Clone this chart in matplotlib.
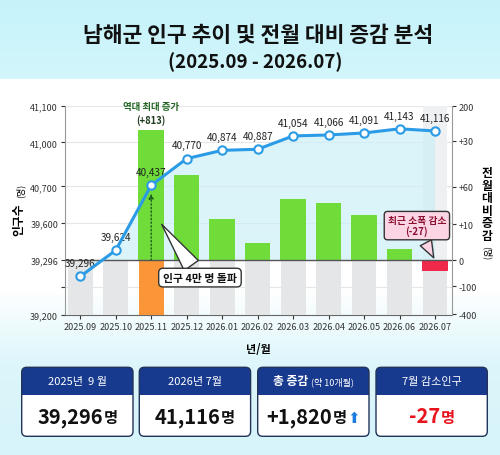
import numpy as np
import matplotlib
matplotlib.use('Agg')
import matplotlib.pyplot as plt
from matplotlib.colors import to_rgb
from matplotlib.patches import FancyBboxPatch, Rectangle, Polygon
from matplotlib.offsetbox import TextArea, HPacker, AnnotationBbox

plt.rcParams['font.family'] = ['Noto Sans CJK KR', 'DejaVu Sans']

months = ['2025.09', '2025.10', '2025.11', '2025.12', '2026.01', '2026.02',
          '2026.03', '2026.04', '2026.05', '2026.06', '2026.07']
population = [39296, 39624, 40437, 40770, 40874, 40887, 41054, 41066, 41091, 41143, 41116]
# bar heights as drawn against the right axis
bar_height = [0, 0, 169, 110, 53, 23, 79, 74, 59, 14.5, -13.6]

left_ticks = [39200, 39248, 39296, 39600, 40700, 41000, 41100]
left_labels = ['39,200', '', '39,296', '39,600', '40,700', '41,000', '41,100']
left_frac = [0, 0.1325, 0.262, 0.4388, 0.6158, 0.8263, 1.0]
right_ticks = [200, 155, 95, 47, 0, -34, -70]
right_labels = ['200', '+30', '+60', '+10', '0', '-100', '-400']

change = np.diff(population)
peak = int(np.argmax(change)) + 1
x = np.arange(len(months))

fig = plt.figure(figsize=(5, 4.56), dpi=100)

# background in pixel coordinates
bg = fig.add_axes([0, 0, 1, 1], zorder=-1)
bg.set_xlim(0, 500)
bg.set_ylim(456, 0)
bg.axis('off')
stops = [0, 79, 80, 290, 365, 456]
cols = np.array([to_rgb(c) for c in ['#c6f3fa', '#d2f6fb', '#ffffff', '#ffffff', '#dcf6fb', '#d6f4fa']])
ys = np.arange(456)
grad = np.stack([np.interp(ys, stops, cols[:, k]) for k in range(3)], axis=-1)[:, None, :]
bg.imshow(grad, extent=(0, 500, 456, 0), aspect='auto')

bg.text(258, 36, '남해군 인구 추이 및 전월 대비 증감 분석', ha='center', va='center',
        fontsize=15.5, weight='bold', color='#111111')
bg.text(255, 62, '(2025.09 - 2026.07)', ha='center', va='center',
        fontsize=13.5, weight='bold', color='#111111')

ax = fig.add_axes([0.13, 0.307, 0.7734, 0.4583])
ax.patch.set_alpha(0)
axr = ax.twinx()
axl = ax.twinx()

# left axis: displayed population ticks
fwd = lambda v: np.interp(v, left_ticks, left_frac)
inv = lambda f: np.interp(f, left_frac, left_ticks)
ax.set_yscale('function', functions=(fwd, inv))
ax.set_ylim(39200, 41100)
ax.set_yticks(left_ticks, left_labels)
ax.set_xlim(-0.43, 10.47)
ax.set_xticks(x, months)
ax.tick_params(labelsize=6.5, length=3, pad=2, colors='#333333')
ax.grid(axis='y', color='#e2e8ea', lw=0.8)
ax.set_xlabel('년/월', fontsize=8, weight='bold', labelpad=8)
for s in ['top', 'right']:
    ax.spines[s].set_visible(False)
ax.spines['left'].set_color('#999999')
ax.spines['bottom'].set_color('#666666')

# right axis: monthly change bars
axr.set_ylim(-71, 200)
axr.set_yticks(right_ticks, right_labels)
axr.tick_params(labelsize=6.5, length=3, pad=2, colors='#333333')
for s in ['top', 'left', 'bottom']:
    axr.spines[s].set_visible(False)
axr.spines['right'].set_color('#999999')

axr.bar(x[-1], 200, width=0.7, color='#eef0f1', zorder=0.4)
low_colors = ['#fb9638' if i == peak else '#e4e6e8' for i in x]
axr.bar(x, -71, width=0.7, color=low_colors, zorder=1)
bar_colors = ['#6fdc3a' if h > 0 else '#f0284a' for h in bar_height]
axr.bar(x, bar_height, width=0.72, color=bar_colors, zorder=2)
axr.axhline(0, color='#555555', lw=1, zorder=3)

# population line
axl.set_ylim(38814, 41428)
axl.axis('off')
base_pop = axl.transData.inverted().transform(axr.transData.transform((0, 0)))[1]
verts = np.column_stack([np.r_[x, x[-1], x[0]], np.r_[population, base_pop, base_pop]])
axr.add_patch(Polygon(verts, closed=True, transform=axl.transData, fc='#c9eff8',
                      ec='none', alpha=0.65, zorder=0.5))
axl.plot(x, population, color='#2b9be6', lw=2.2, marker='o', ms=6, mfc='white',
         mec='#2b9be6', mew=1.5, zorder=4)
for i, v in enumerate(population):
    axl.annotate(f'{v:,}', (i, v), xytext=(0, 9.5), textcoords='offset points',
                 ha='center', va='center', fontsize=7.2, color='#222222')

# annotations
axr.annotate(f'(+{change[peak - 1]})', (peak, bar_height[peak]), xytext=(0, 7.5),
             textcoords='offset points', ha='center', va='center', fontsize=6.8,
             weight='bold', color='#1f3b1f')
axr.annotate('역대 최대 증가', (peak, bar_height[peak]), xytext=(0, 17.5),
             textcoords='offset points', ha='center', va='center', fontsize=6.8,
             weight='bold', color='#226622')
axl.annotate('', xy=(peak, population[peak]), xycoords=axl.transData,
             xytext=(peak, 0), textcoords=axr.transData,
             arrowprops=dict(arrowstyle='-|>', ls=':', color='#1b5e20', lw=1,
                             shrinkA=0, shrinkB=6, mutation_scale=7))
axl.annotate('인구 4만 명 돌파', xy=(0.2457, 0.445), xycoords='axes fraction',
             xytext=(0.349, 0.179), textcoords='axes fraction', ha='center', va='center',
             fontsize=7.8, weight='bold', color='#111111',
             bbox=dict(boxstyle='round,pad=0.4', fc='white', ec='#333333', lw=1),
             arrowprops=dict(arrowstyle='wedge,tail_width=1.6,shrink_factor=0.5',
                             fc='white', ec='#333333', lw=1))
axl.annotate(f'최근 소폭 감소\n({change[-1]})', xy=(x[-1], 0), xycoords=axr.transData,
             xytext=(0.910, 0.428), textcoords='axes fraction', ha='center', va='center',
             fontsize=7, weight='bold', color='#8b1030', linespacing=1.1,
             bbox=dict(boxstyle='round,pad=0.35', fc='#fcd5e5', ec='#333333', lw=1),
             arrowprops=dict(arrowstyle='wedge,tail_width=1.3,shrink_factor=0.5',
                             fc='#fcd5e5', ec='#333333', lw=1))

# axis titles
bg.text(19, 220, '인구수', rotation=90, ha='center', va='center', fontsize=8.5, weight='bold')
bg.text(20, 191, '(명)', rotation=90, ha='center', va='center', fontsize=6.5)
bg.text(487, 205, '\n'.join('전월대비증감'), ha='center', va='center', fontsize=8.5,
        weight='bold', linespacing=0.95)
bg.text(487, 253, '(명)', rotation=-90, ha='center', va='center', fontsize=6.5)

# summary cards
card_x = [21.7, 139.3, 257.7, 376]
card_w, top, head, bottom = 111.3, 368.3, 396, 437.3
first, last = population[0], population[-1]
heads = [[('2025년  9 월', 8, 'normal')], [('2026년 7월', 8, 'normal')],
         [('총 증감', 8.5, 'bold'), (' (약 10개월)', 6.5, 'normal')], [('7월 감소인구', 8, 'normal')]]
values = [(f'{first:,}', '#111111', ''), (f'{last:,}', '#111111', ''),
          (f'+{last - first:,}', '#111111', '⬆'), (f'{change[-1]}', '#e8141c', '')]
for cx, hd, (num, col, arrow) in zip(card_x, heads, values):
    rs = 'round,pad=0,rounding_size=5'
    bg.add_patch(FancyBboxPatch((cx, top), card_w, bottom - top, boxstyle=rs,
                                fc='#173a8f', ec='none'))
    bg.add_patch(FancyBboxPatch((cx, head), card_w, bottom - head, boxstyle=rs,
                                fc='white', ec='none'))
    bg.add_patch(Rectangle((cx, head), card_w, 6, fc='white', ec='none'))
    bg.add_patch(FancyBboxPatch((cx, top), card_w, bottom - top, boxstyle=rs,
                                fc='none', ec='#22345a', lw=1))
    parts = [TextArea(t, textprops=dict(fontsize=s, weight=w, color='white')) for t, s, w in hd]
    bg.add_artist(AnnotationBbox(HPacker(children=parts, align='baseline', pad=0, sep=0),
                                 (cx + card_w / 2, 382), frameon=False))
    parts = [TextArea(num, textprops=dict(fontsize=14.5, weight='bold', color=col)),
             TextArea('명', textprops=dict(fontsize=11, weight='bold', color=col))]
    if arrow:
        parts.append(TextArea(arrow, textprops=dict(fontsize=11, color='#1e7be0',
                                                    family=['DejaVu Sans'])))
    bg.add_artist(AnnotationBbox(HPacker(children=parts, align='baseline', pad=0, sep=0.5),
                                 (cx + card_w / 2, 417), frameon=False))

fig.savefig('out.png', dpi=100)
